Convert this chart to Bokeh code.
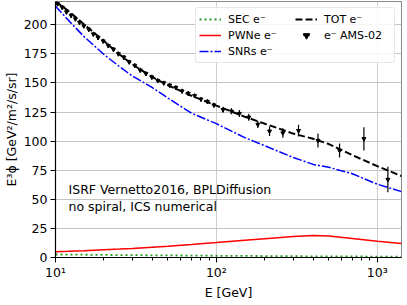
from bokeh.plotting import figure
from bokeh.models import Range1d, FixedTicker, Legend, LegendItem, Label, ColumnDataSource
from bokeh.embed import file_html
from bokeh.resources import INLINE

# ---- model curves (E in GeV, E^3 flux in GeV^2/m^2/s/sr) ----
energy = [10, 12, 15, 20, 25, 30, 40, 50, 70, 100, 150, 200, 300, 400, 500, 700, 1000, 1415]
tot_flux = [220, 212, 200.5, 186, 174.5, 166, 155, 148, 139, 130.5, 121, 115, 106.5, 102, 97.5, 88, 78.5, 70]
snr_flux = [216, 204, 190, 174.5, 164, 156, 146, 137, 124, 115, 103, 96, 86, 80, 77.5, 72, 63, 56.6]
pwn_flux = [5.0, 5.3, 5.8, 6.6, 7.2, 7.8, 8.9, 9.7, 11.2, 12.8, 14.8, 16.2, 18.0, 19.0, 18.4, 16.3, 14.0, 12.0]
sec_flux = [2.6, 2.5, 2.4, 2.2, 2.1, 2.0, 1.9, 1.8, 1.65, 1.5, 1.35, 1.25, 1.1, 1.0, 0.95, 0.88, 0.8, 0.7]

# ---- AMS-02 electron data ----
ams_energy = [10.3, 11.0, 11.7, 12.5, 13.3, 14.1, 15.0, 16.1, 17.2, 18.4, 19.8, 21.3, 22.9, 24.6,
              26.6, 28.7, 31.1, 33.6, 36.5, 39.7, 43.2, 47.1, 51.3, 56.0, 61.2, 66.9, 73.2, 80.2,
              88.0, 96.5, 110, 124, 139, 159, 181, 214, 259, 324, 428, 583, 826, 1164]
ams_flux = [218, 215, 211, 208, 205, 202, 199, 196, 192, 189, 186, 182, 179, 175,
            172, 168, 165, 161, 158, 155, 152, 150, 148, 146, 143, 141, 139, 136,
            134, 131, 127, 125.7, 123.7, 120.5, 114.3, 108.5, 107, 109, 100.5, 92, 102, 67]
ams_err = [2, 2, 2, 2, 2, 2, 2, 2, 2, 2, 2, 2, 2, 2,
           2, 2, 2, 2, 2, 2, 2, 2, 2, 2, 2, 2, 2, 2,
           2, 2, 2.5, 2.5, 3, 3, 3, 4, 4, 5, 6, 6, 10, 11]

x_ticks = [10, 100, 1000]
x_minor = [20, 30, 40, 50, 60, 70, 80, 90, 200, 300, 400, 500, 600, 700, 800, 900]
x_tick_labels = {10: "10¹", 100: "10²", 1000: "10³"}
y_ticks = [0, 25, 50, 75, 100, 125, 150, 175, 200]

FONT = "DejaVu Sans"

p = figure(x_axis_type="log", x_range=Range1d(10, 1415), y_range=Range1d(0, 220),
           frame_width=346, frame_height=256, output_backend="svg", toolbar_location=None,
           min_border_top=1, min_border_right=5, min_border_left=0, min_border_bottom=0,
           background_fill_color="white")

p.outline_line_color = "#8a8a8a"
p.outline_line_width = 1

# axes
p.xaxis.ticker = FixedTicker(ticks=x_ticks, minor_ticks=x_minor)
p.xaxis.major_label_overrides = x_tick_labels
p.yaxis.ticker = FixedTicker(ticks=y_ticks)
for ax in (p.xaxis[0], p.yaxis[0]):
    ax.axis_line_color = "black"
    ax.axis_line_width = 1.2
    ax.major_tick_line_color = "black"
    ax.major_tick_out = 5
    ax.major_tick_in = 0
    ax.major_label_text_font = FONT
    ax.major_label_text_font_size = "12.5px"
    ax.major_label_text_color = "black"
    ax.axis_label_text_font = FONT
    ax.axis_label_text_font_size = "12.5px"
    ax.axis_label_text_font_style = "normal"
    ax.axis_label_text_color = "black"
p.xaxis.minor_tick_line_color = "black"
p.xaxis.minor_tick_out = 3
p.xaxis.minor_tick_in = 0
p.yaxis.minor_tick_line_color = None
p.xaxis.major_label_standoff = 2
p.yaxis.major_label_standoff = 3
p.xaxis.axis_label = "E [GeV]"
p.yaxis.axis_label = "E³ϕ [GeV²/m²/s/sr]"
p.xaxis.axis_label_standoff = 2
p.yaxis.axis_label_standoff = 2

p.xgrid.grid_line_color = "#cfcfcf"
p.ygrid.grid_line_color = "#c4c4c4"
p.xgrid.grid_line_width = 1
p.ygrid.grid_line_width = 1

r_sec = p.line(energy, sec_flux, line_color="#1f9a1f", line_width=1.8, line_dash="2 3")
r_pwn = p.line(energy, pwn_flux, line_color="red", line_width=1.5)
r_snr = p.line(energy, snr_flux, line_color="blue", line_width=1.5, line_dash="9 2 2 2")
r_tot = p.line(energy, tot_flux, line_color="black", line_width=2, line_dash="7 3")

lo = [f - e for f, e in zip(ams_flux, ams_err)]
hi = [f + e for f, e in zip(ams_flux, ams_err)]
src = ColumnDataSource(dict(x=ams_energy, y=ams_flux, lo=lo, hi=hi))
p.segment(x0="x", y0="lo", x1="x", y1="hi", source=src, line_color="black", line_width=1.2)
# small vertical dash at each point (inside the error bar); gives the legend its vertical bar
r_bar = p.scatter(x="x", y="y", source=src, marker="dash", angle=1.5708, size=4,
                  line_color="black", line_width=1.2)
r_pts = p.scatter(x="x", y="y", source=src, marker="inverted_triangle", size=4,
                  fill_color="black", line_color="black")

legend = Legend(items=[
    LegendItem(label="SEC e⁻", renderers=[r_sec]),
    LegendItem(label="PWNe e⁻", renderers=[r_pwn]),
    LegendItem(label="SNRs e⁻", renderers=[r_snr]),
    LegendItem(label="TOT e⁻", renderers=[r_tot]),
    LegendItem(label="e⁻ AMS-02", renderers=[r_bar, r_pts]),
], location="top_right", orientation="vertical", nrows=3)
legend.label_text_font = FONT
legend.label_text_font_size = "11px"
legend.label_text_color = "black"
legend.glyph_width = 22
legend.glyph_height = 16
legend.label_height = 16
legend.label_width = 67
legend.label_standoff = 7
legend.spacing = 0
legend.padding = 3
legend.margin = 6
legend.border_line_color = "#d0d0d0"
legend.border_line_width = 1
legend.background_fill_alpha = 0.85
legend.border_radius = 3
p.add_layout(legend)

p.add_layout(Label(x=12.05, y=58.5, text="ISRF Vernetto2016, BPLDiffusion", text_font=FONT,
                   text_font_size="12.5px", text_baseline="middle", text_color="black"))
p.add_layout(Label(x=12.05, y=44.2, text="no spiral, ICS numerical", text_font=FONT,
                   text_font_size="12.5px", text_baseline="middle", text_color="black"))

open("out.html", "w").write(file_html(p, INLINE))
